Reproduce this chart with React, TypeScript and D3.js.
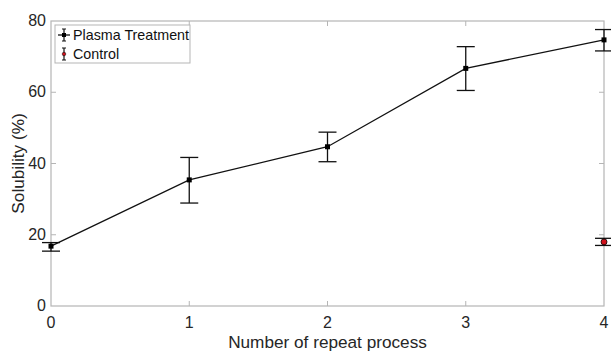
import React, { useEffect, useRef } from 'react';
import * as d3 from 'd3';

const repeats = [0, 1, 2, 3, 4];
const plasma = [16.8, 35.4, 44.7, 66.7, 74.7];
const plasmaLow = [15.4, 28.9, 40.5, 60.5, 71.6];
const plasmaHigh = [17.8, 41.7, 48.8, 72.8, 77.6];
const controlX = [4];
const control = [18];
const controlLow = [17];
const controlHigh = [19];
const yTicks = [0, 20, 40, 60, 80];

const W = 611;
const H = 351;
const margin = { top: 21, right: 7, bottom: 45, left: 51 };
const font = 'Liberation Sans, Arial, sans-serif';
const textColor = '#262626';
const axisColor = '#b5b5b5';

export default function App() {
  const ref = useRef<SVGSVGElement>(null);

  useEffect(() => {
    document.body.style.margin = '0';
    const svg = d3.select(ref.current);
    svg.selectAll('*').remove();

    const x = d3.scaleLinear().domain([0, 4]).range([margin.left, W - margin.right]);
    const y = d3.scaleLinear().domain([0, 80]).range([H - margin.bottom, margin.top]);
    const x0 = x(0), x1 = x(4), y0 = y(0), y1 = y(80);

    svg.append('rect').attr('width', W).attr('height', H).attr('fill', 'white');

    // box
    svg.append('rect')
      .attr('x', x0).attr('y', y1)
      .attr('width', x1 - x0).attr('height', y0 - y1)
      .attr('fill', 'none').attr('stroke', axisColor).attr('stroke-width', 1.2);

    const tl = 5;
    const ticks = svg.append('g').attr('stroke', axisColor).attr('stroke-width', 1);
    repeats.slice(1, -1).forEach(v => {
      ticks.append('line').attr('x1', x(v)).attr('x2', x(v)).attr('y1', y0).attr('y2', y0 - tl);
      ticks.append('line').attr('x1', x(v)).attr('x2', x(v)).attr('y1', y1).attr('y2', y1 + tl);
    });
    yTicks.slice(1, -1).forEach(v => {
      ticks.append('line').attr('x1', x0).attr('x2', x0 + tl).attr('y1', y(v)).attr('y2', y(v));
      ticks.append('line').attr('x1', x1).attr('x2', x1 - tl).attr('y1', y(v)).attr('y2', y(v));
    });

    svg.append('g')
      .attr('font-family', font).attr('font-size', 16).attr('fill', textColor)
      .attr('text-anchor', 'middle')
      .selectAll('text').data(repeats).join('text')
      .attr('x', d => x(d)).attr('y', y0 + 22)
      .text(d => d);

    svg.append('g')
      .attr('font-family', font).attr('font-size', 16).attr('fill', textColor)
      .attr('text-anchor', 'end')
      .selectAll('text').data(yTicks).join('text')
      .attr('x', x0 - 5).attr('y', d => y(d) + 5)
      .text(d => d);

    svg.append('text')
      .attr('x', (x0 + x1) / 2).attr('y', H - 3)
      .attr('text-anchor', 'middle')
      .attr('font-family', font).attr('font-size', 17.2).attr('fill', textColor)
      .text('Number of repeat process');

    svg.append('text')
      .attr('transform', `translate(24,${(y0 + y1) / 2}) rotate(-90)`)
      .attr('text-anchor', 'middle')
      .attr('font-family', font).attr('font-size', 17.2).attr('fill', textColor)
      .text('Solubility (%)');

    const cap = 9;
    const drawErr = (xs: number[], lo: number[], hi: number[]) => {
      const g = svg.append('g').attr('stroke', '#111').attr('stroke-width', 1.3);
      xs.forEach((v, i) => {
        g.append('line').attr('x1', x(v)).attr('x2', x(v)).attr('y1', y(lo[i])).attr('y2', y(hi[i]));
        g.append('line').attr('x1', x(v) - cap).attr('x2', x(v) + cap).attr('y1', y(lo[i])).attr('y2', y(lo[i]));
        g.append('line').attr('x1', x(v) - cap).attr('x2', x(v) + cap).attr('y1', y(hi[i])).attr('y2', y(hi[i]));
      });
    };

    drawErr(repeats, plasmaLow, plasmaHigh);
    const line = d3.line<number>().x((_, i) => x(repeats[i])).y(d => y(d));
    svg.append('path').datum(plasma)
      .attr('d', line).attr('fill', 'none').attr('stroke', '#111').attr('stroke-width', 1.3);
    svg.append('g').selectAll('rect').data(plasma).join('rect')
      .attr('x', (_, i) => x(repeats[i]) - 2.5).attr('y', d => y(d) - 2.5)
      .attr('width', 5).attr('height', 5).attr('fill', '#000');

    drawErr(controlX, controlLow, controlHigh);
    svg.append('g').selectAll('circle').data(control).join('circle')
      .attr('cx', (_, i) => x(controlX[i])).attr('cy', d => y(d)).attr('r', 3)
      .attr('fill', '#d0101a').attr('stroke', '#000').attr('stroke-width', 0.8);

    // legend
    const lg = svg.append('g');
    lg.append('rect').attr('x', 55).attr('y', 25).attr('width', 135).attr('height', 38)
      .attr('fill', 'white').attr('stroke', axisColor).attr('stroke-width', 1);
    const ly1 = 35, ly2 = 54;
    const lx = 64;
    lg.append('line').attr('x1', 58).attr('x2', 70).attr('y1', ly1).attr('y2', ly1).attr('stroke', '#111').attr('stroke-width', 1.3);
    lg.append('line').attr('x1', lx).attr('x2', lx).attr('y1', ly1 - 6).attr('y2', ly1 + 6).attr('stroke', '#111').attr('stroke-width', 1.2);
    lg.append('line').attr('x1', lx - 2).attr('x2', lx + 2).attr('y1', ly1 - 6).attr('y2', ly1 - 6).attr('stroke', '#111');
    lg.append('line').attr('x1', lx - 2).attr('x2', lx + 2).attr('y1', ly1 + 6).attr('y2', ly1 + 6).attr('stroke', '#111');
    lg.append('rect').attr('x', lx - 2).attr('y', ly1 - 2).attr('width', 4).attr('height', 4).attr('fill', '#000');
    lg.append('line').attr('x1', lx).attr('x2', lx).attr('y1', ly2 - 6).attr('y2', ly2 + 6).attr('stroke', '#111').attr('stroke-width', 1.2);
    lg.append('line').attr('x1', lx - 2).attr('x2', lx + 2).attr('y1', ly2 - 6).attr('y2', ly2 - 6).attr('stroke', '#111');
    lg.append('line').attr('x1', lx - 2).attr('x2', lx + 2).attr('y1', ly2 + 6).attr('y2', ly2 + 6).attr('stroke', '#111');
    lg.append('circle').attr('cx', lx).attr('cy', ly2).attr('r', 1.8).attr('fill', '#d0101a').attr('stroke', '#000').attr('stroke-width', 0.5);
    lg.append('g').attr('font-family', font).attr('font-size', 14.3).attr('fill', '#111')
      .selectAll('text').data(['Plasma Treatment', 'Control']).join('text')
      .attr('x', 73).attr('y', (_, i) => (i ? ly2 : ly1) + 5)
      .text(d => d);
  }, []);

  return <svg ref={ref} width={W} height={H} style={{ display: 'block' }} />;
}
